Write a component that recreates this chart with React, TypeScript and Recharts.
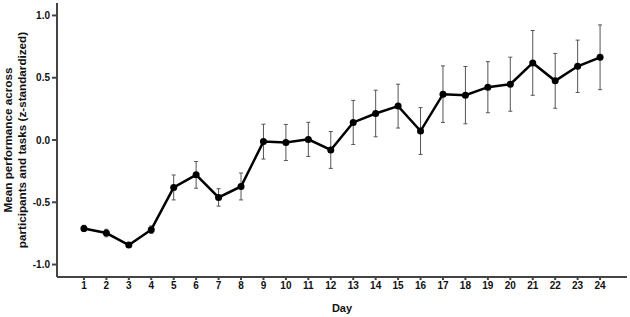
import { LineChart, Line, XAxis, YAxis, ErrorBar } from "recharts";

const days = [1, 2, 3, 4, 5, 6, 7, 8, 9, 10, 11, 12, 13, 14, 15, 16, 17, 18, 19, 20, 21, 22, 23, 24];
const meanScores = [
  -0.71, -0.747, -0.843, -0.72, -0.381, -0.28, -0.461, -0.373, -0.013, -0.02, 0.005, -0.08,
  0.141, 0.213, 0.272, 0.072, 0.368, 0.36, 0.424, 0.448, 0.619, 0.475, 0.592, 0.664,
];
const errors = [
  0.025, 0.03, 0.01, 0.03, 0.1, 0.107, 0.07, 0.108, 0.14, 0.145, 0.137, 0.148,
  0.177, 0.187, 0.176, 0.188, 0.227, 0.23, 0.205, 0.217, 0.26, 0.22, 0.21, 0.26,
];
const yTicks = [-1.0, -0.5, 0.0, 0.5, 1.0];

const data = days.map((d, i) => ({ day: d, mean: meanScores[i], err: errors[i] }));

const font = "'Liberation Sans', Arial, sans-serif";

const YLabel = () => (
  <text
    transform="translate(17, 140) rotate(-90)"
    textAnchor="middle"
    fontFamily={font}
    fontWeight="bold"
    fontSize={11.7}
    fill="#111"
  >
    <tspan x={0} dy={-5}>Mean performance across</tspan>
    <tspan x={0} dy={13.5}>participants and tasks (z-standardized)</tspan>
  </text>
);

export default function App() {
  return (
    <div style={{ position: "absolute", left: 0, top: 0, background: "#fff" }}>
      <LineChart
        width={630}
        height={317}
        data={data}
        margin={{ top: 3, right: 3, bottom: 0, left: 0 }}
      >
        <XAxis
          dataKey="day"
          type="number"
          domain={[-0.2, 25.2]}
          ticks={days}
          interval={0}
          height={40}
          stroke="#444"
          strokeWidth={2}
          tickSize={3}
          tick={{ fill: "#111", fontSize: 10, fontWeight: "bold", fontFamily: font }}
          label={{
            value: "Day",
            position: "insideBottom",
            offset: 5,
            fill: "#111",
            fontSize: 11,
            fontWeight: "bold",
            fontFamily: font,
          }}
        />
        <YAxis
          type="number"
          domain={[-1.1, 1.1]}
          ticks={yTicks}
          width={57}
          stroke="#444"
          strokeWidth={2}
          tickSize={5}
          tickFormatter={(v: number) => v.toFixed(1)}
          tick={{ fill: "#111", fontSize: 10, fontWeight: "bold", fontFamily: font }}
          label={{ content: () => <YLabel /> }}
        />
        <Line
          dataKey="mean"
          stroke="#000"
          strokeWidth={2.5}
          dot={{ r: 3.5, fill: "#000", stroke: "#000", strokeWidth: 0 }}
          activeDot={false}
          isAnimationActive={false}
        >
          <ErrorBar dataKey="err" width={2} stroke="#555" strokeWidth={1} direction="y" />
        </Line>
      </LineChart>
    </div>
  );
}
